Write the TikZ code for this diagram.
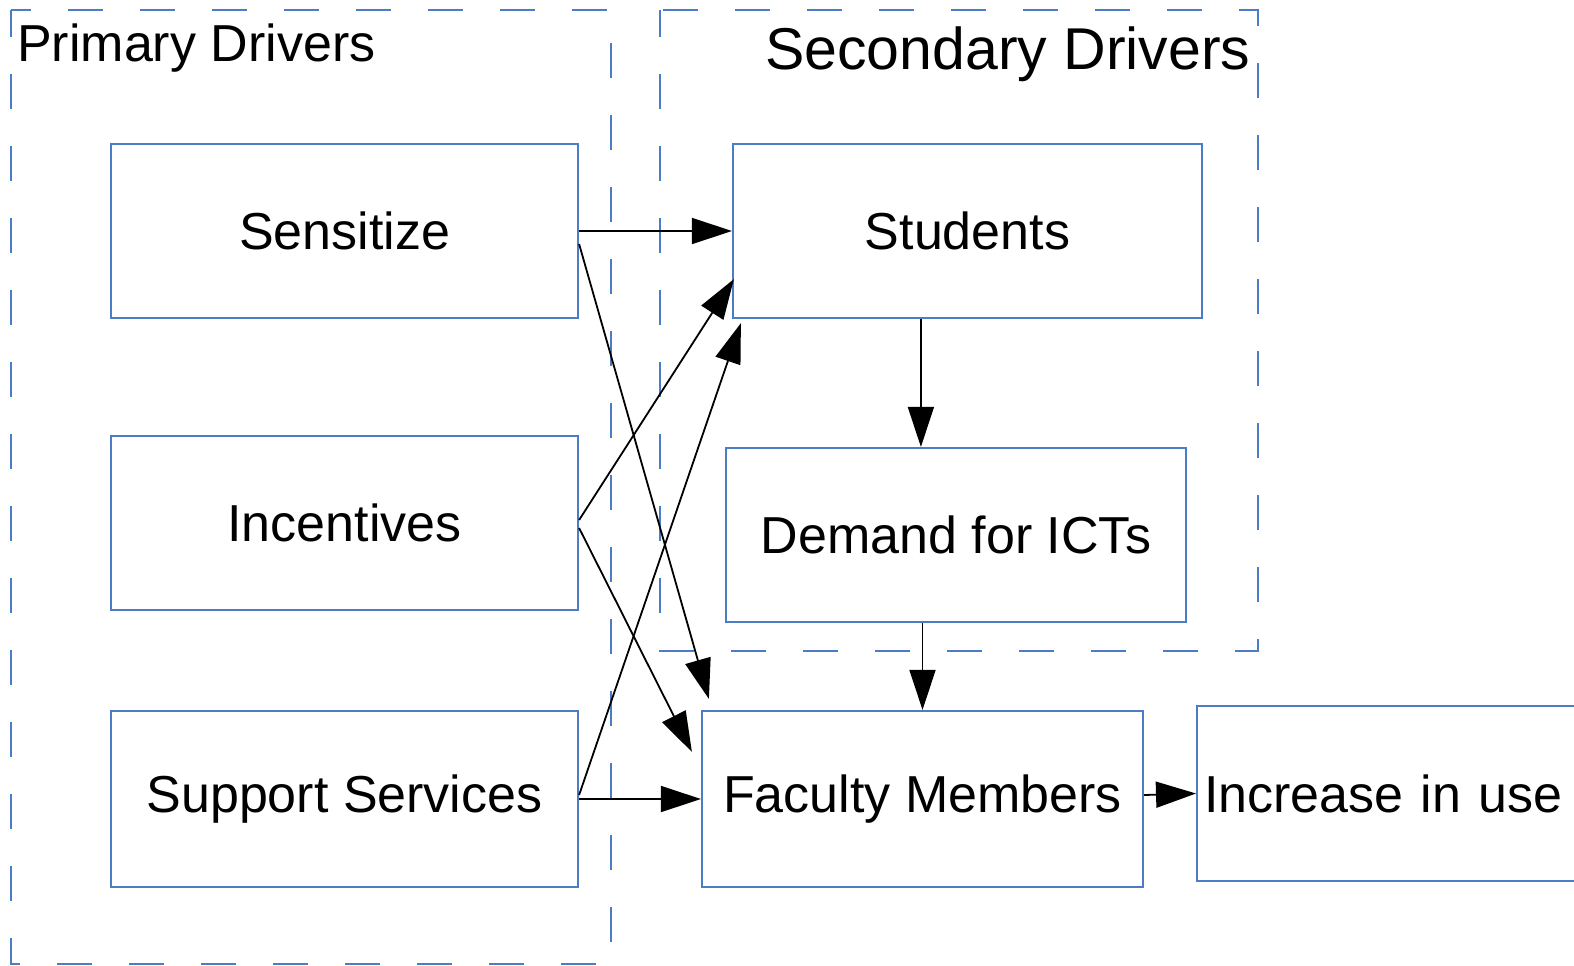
\documentclass[tikz,border=0pt]{standalone}
\usepackage{fontspec}
\setmainfont{Liberation Sans}
\usetikzlibrary{arrows.meta}
\definecolor{edgeblue}{RGB}{76,124,198}
\begin{document}
\begin{tikzpicture}[x=1pt,y=-1pt,
  box/.style={draw=edgeblue,line width=2.2pt,rectangle,inner sep=0pt,
    font=\fontsize{52}{60}\selectfont},
  group/.style={draw=edgeblue,line width=2.2pt,dash pattern=on 35pt off 37pt,dash phase=8pt},
  conn/.style={line width=1.8pt,-{Triangle[length=40pt,width=26pt]}},
  title/.style={inner sep=0pt,anchor=base west}]
\useasboundingbox (0,0) rectangle (1574,966);

% driver groups
\draw[group] (11,10) rectangle (611,964);
\draw[group] (660,10) rectangle (1258,651);
\node[title,font=\fontsize{52}{60}\selectfont] (ptitle) at (17,62) {Primary Drivers};
\node[title,font=\fontsize{59}{68}\selectfont] (stitle) at (765,70) {Secondary Drivers};

% primary drivers
\node[box,minimum width=467pt,minimum height=174pt] (sens) at (344.5,231) {Sensitize};
\node[box,minimum width=467pt,minimum height=174pt] (incv) at (344.5,523) {Incentives};
\node[box,minimum width=467pt,minimum height=176pt] (sup) at (344.5,799) {Support Services};

% secondary drivers and outcome
\node[box,minimum width=469pt,minimum height=174pt] (stu) at (967.5,231) {Students};
\node[box,minimum width=460pt,minimum height=174pt] (dem) at (956,535) {Demand for ICTs};
\node[box,minimum width=441pt,minimum height=176pt] (fac) at (922.5,799) {Faculty Members};
\node[box,minimum height=175pt,text width=390pt,align=left,inner xsep=7pt,anchor=west] (inc) at (1196,793.5) {Increase in use};

% connectors
\draw[conn] (sens.east) -- (stu.west);
\draw[conn] ([yshift=-13pt]sens.east) -- ([xshift=8pt,yshift=11pt]fac.north west);
\draw[conn] ([yshift=3pt]incv.east) -- ([xshift=2pt,yshift=40pt]stu.south west);
\draw[conn] ([yshift=-5pt]incv.east) -- ([xshift=-9pt,yshift=-42pt]fac.north west);
\draw[conn] ([yshift=4pt]sup.east) -- ([xshift=9pt,yshift=-4pt]stu.south west);
\draw[conn] (sup.east) -- (fac.west);
\draw[conn] ([xshift=189pt]stu.south west) -- ([xshift=196pt]dem.north west);
\draw[conn] (fac.north |- dem.south) -- (fac.north);
\draw[conn] ([yshift=4pt]fac.east) -- (inc.west);
\end{tikzpicture}
\end{document}
